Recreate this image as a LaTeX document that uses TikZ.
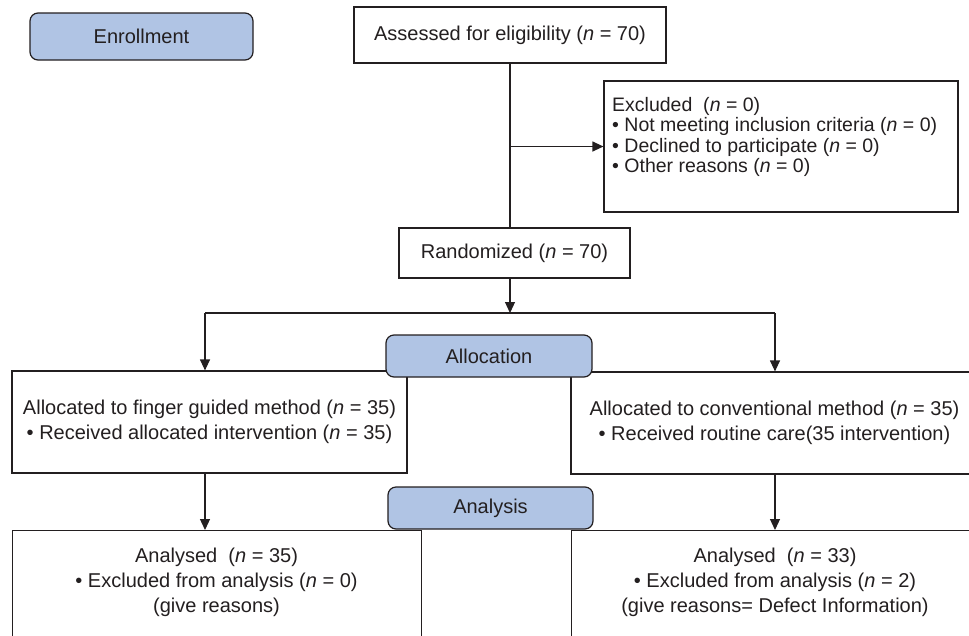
\documentclass[tikz,border=0pt]{standalone}
\usepackage{fontspec}
\setmainfont{Liberation Sans}
\usetikzlibrary{arrows.meta}
\definecolor{ink}{HTML}{231F20}
\definecolor{phase}{RGB}{176,196,228}
\begin{document}
\begin{tikzpicture}[x=1pt,y=-1pt,
  box/.style={draw=ink, line width=1.2pt, fill=white, inner sep=0pt},
  phasebox/.style={box, fill=phase, rounded corners=8pt},
  txt/.style={text=ink, font=\fontsize{20}{25}\selectfont, align=center},
  arr/.style={draw=ink, line width=1.2pt, -{Triangle[length=11pt,width=10pt]}},
  ln/.style={draw=ink, line width=1.2pt}]
\clip (0,0) rectangle (969,635);
% boxes
\node[phasebox, txt, minimum width=223pt, minimum height=47pt] (enroll) at (141.5,36.5) {Enrollment};
\node[box, txt, minimum width=312pt, minimum height=56pt] (assess) at (510,35) {Assessed for eligibility (\textit{n} = 70)};
\node[box, minimum width=354pt, minimum height=131pt] (excl) at (781,146.5) {};
\node[txt, align=left, anchor=west, inner sep=0pt, font=\fontsize{19.5}{20.5}\selectfont] (exclt) at (612,137)
  {Excluded\ \ (\textit{n} = 0)\\
   \textbullet\ Not meeting inclusion criteria (\textit{n} = 0)\\
   \textbullet\ Declined to participate (\textit{n} = 0)\\
   \textbullet\ Other reasons (\textit{n} = 0)};
\node[box, txt, minimum width=231pt, minimum height=50pt] (rand) at (514.5,253) {Randomized (\textit{n} = 70)};
\node[box, txt, minimum width=395pt, minimum height=102pt] (leftA) at (209.5,422)
  {Allocated to finger guided method (\textit{n} = 35)\\ \textbullet\ Received allocated intervention (\textit{n} = 35)};
\node[box, txt, minimum width=407pt, minimum height=102pt] (rightA) at (774.5,423)
  {Allocated to conventional method (\textit{n} = 35)\\ \textbullet\ Received routine care(35 intervention)};
\node[box, minimum width=409pt, minimum height=120pt, anchor=north west] (leftB) at (12,530) {};
\node[box, minimum width=407pt, minimum height=120pt, anchor=north west] (rightB) at (571,530) {};
\node[txt, inner sep=0pt] (leftBt) at (216.5,582)
  {Analysed\ \ (\textit{n} = 35)\\ \textbullet\ Excluded from analysis (\textit{n} = 0)\\ (give reasons)};
\node[txt, inner sep=0pt] (rightBt) at (775,582)
  {Analysed\ \ (\textit{n} = 33)\\ \textbullet\ Excluded from analysis (\textit{n} = 2)\\ (give reasons= Defect Information)};
% connectors
\draw[ln] (assess.south) -- (assess.south |- rand.north);
\coordinate (j1) at (assess.south |- excl.west);
\draw[arr] (j1) -- (excl.west);
\coordinate (split) at (510,313);
\coordinate (sl) at (205,313);
\coordinate (sr) at (775,313);
\draw[arr] (split |- rand.south) -- (split);
\draw[ln] (sl) -- (sr);
\draw[arr] (sl) -- (sl |- leftA.north);
\draw[arr] (sr) -- (sr |- rightA.north);
\draw[arr] (sl |- leftA.south) -- (sl |- leftB.north);
\draw[arr] (sr |- rightA.south) -- (sr |- rightB.north);
% phase labels on top
\node[phasebox, txt, minimum width=206pt, minimum height=42pt] (alloc) at (489,356) {Allocation};
\node[phasebox, txt, minimum width=205pt, minimum height=42pt] (analysis) at (490.5,508) {Analysis};
\end{tikzpicture}
\end{document}
